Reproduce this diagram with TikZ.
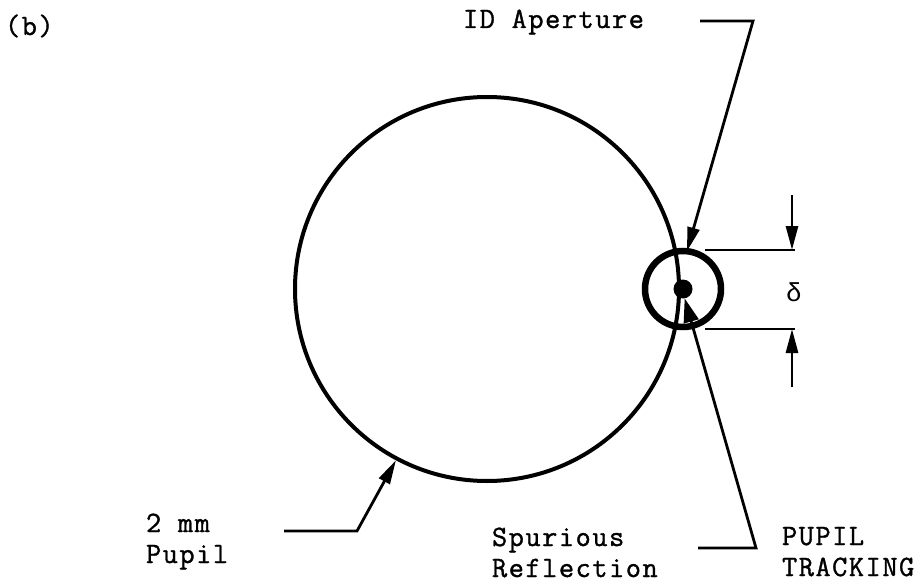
\documentclass[tikz,border=0pt]{standalone}
\usepackage{fontspec}
\newfontfamily\twfont{Latin Modern Mono}[LetterSpace=5.2, FakeBold=1.2]
\newfontfamily\greekfont{Liberation Mono}
\usetikzlibrary{arrows.meta}
\begin{document}
\begin{tikzpicture}[x=1pt,y=-1pt,
  lbl/.style={inner sep=0pt, outer sep=0pt, anchor=base west, font=\twfont\fontsize{29.5pt}{31pt}\selectfont},
  lead/.style={line width=2.8pt, line join=miter},
  tip/.style={-{Triangle[length=24pt,width=12pt]}}
]
\useasboundingbox (0,0) rectangle (924,583);
% shapes
\node[circle, draw, line width=4pt, minimum size=384pt, inner sep=0pt] (pupil) at (487,289) {};
\node[circle, draw, line width=6.5pt, minimum size=76pt, inner sep=0pt, outer sep=0pt] (ring) at (683,289) {};
\node[circle, fill, minimum size=19pt, inner sep=0pt, outer sep=0pt] (dot) at (683,289) {};
% labels
\node[lbl] (b) at (5,35) {(b)};
\node[lbl] (idap) at (463,28) {ID Aperture};
\node[lbl] (mm) at (146,532) {\begin{tabular}[t]{@{}l@{}}2 mm\\Pupil\end{tabular}};
\node[lbl] (spur) at (492,546) {\begin{tabular}[t]{@{}l@{}}Spurious\\Reflection\end{tabular}};
\node[lbl] (track) at (782,545) {\begin{tabular}[t]{@{}l@{}}PUPIL\\TRACKING\end{tabular}};
\node[inner sep=0pt, font=\greekfont\fontsize{26pt}{31pt}\selectfont] (delta) at (794,292) {δ};
% leader coordinates
\coordinate (a1) at (700,21);
\coordinate (a2) at (753,21);
\coordinate (s1) at (698,548);
\coordinate (s2) at (756,548);
\coordinate (p1) at (284,531);
\coordinate (p2) at (357,531);
\coordinate (u1) at (705,250);
\coordinate (u2) at (795,250);
\coordinate (u3) at (792,195);
\coordinate (u4) at (792,250);
\coordinate (l1) at (705,329);
\coordinate (l2) at (795,329);
\coordinate (l3) at (792,387);
\coordinate (l4) at (792,329);
% leaders
\draw[lead, tip] (a1) -- (a2) -- (ring.84);
\draw[lead, -{Triangle[length=24pt,width=15pt]}] (s1) -- (s2) -- (dot.-80);
\draw[lead, tip] (p1) -- (p2) -- (pupil.242.5);
% dimension
\draw[lead] (u1) -- (u2);
\draw[lead] (l1) -- (l2);
\draw[lead, tip] (u3) -- (u4);
\draw[lead, tip] (l3) -- (l4);
\end{tikzpicture}
\end{document}
